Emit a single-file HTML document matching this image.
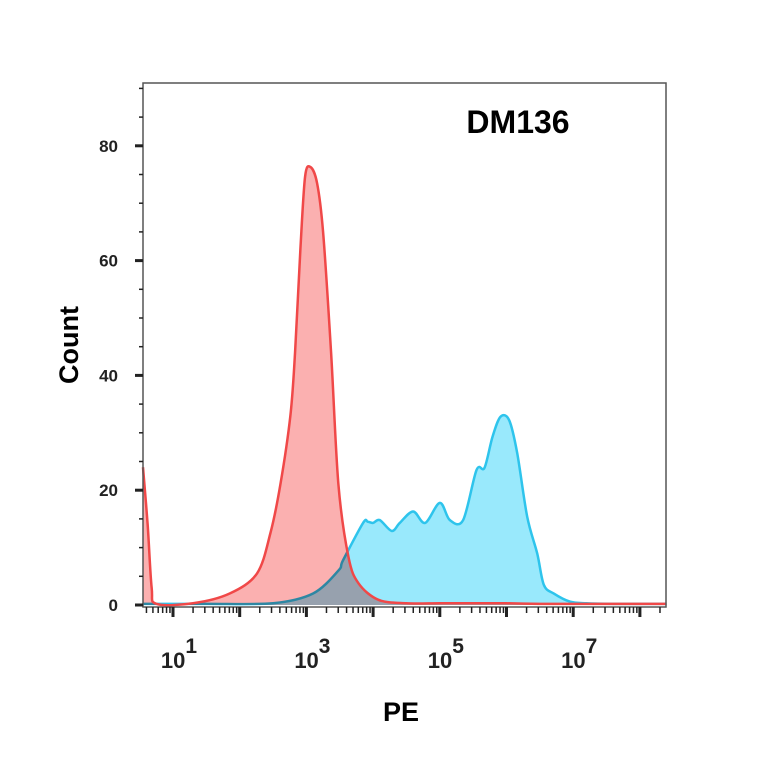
<!DOCTYPE html>
<html><head><meta charset="utf-8"><style>
body{margin:0;background:#fff;}
svg{display:block;font-family:"Liberation Sans",Arial,sans-serif;}
</style></head><body>
<svg id="chart" width="764" height="764" viewBox="0 0 764 764" xmlns="http://www.w3.org/2000/svg">
<g id="plot"></g>
<rect x="143" y="83" width="523" height="524" fill="none" stroke="#555" stroke-width="1.5"/>
<g id="axes"></g>
<text x="518" y="133" font-size="32" font-weight="bold" text-anchor="middle">DM136</text>
<text x="0" y="0" font-size="27" font-weight="bold" text-anchor="middle" transform="translate(78,345) rotate(-90)">Count</text>
<text x="401" y="721" font-size="27" font-weight="bold" text-anchor="middle">PE</text>
</svg>
<script>
// data (x in log10 decades, y in counts)
const redX = [0.55,0.62,0.68,0.75,1.3,1.85,2.26,2.46,2.61,2.76,2.83,2.91,2.98,3.06,3.16,3.25,3.37,3.48,3.63,3.78,4.08,4.5,5,5.5,6,6.5,7,8.4];
const redY = [24,14,3,0.2,0.3,2,5.5,12.5,21,33,44,62,74.6,76.3,73.5,65,44,21,8.4,3.8,0.9,0.3,0.3,0.3,0.3,0.2,0.2,0.2];
const blueX = [0.55,1.5,2.5,3.1,3.48,3.55,3.85,3.92,4.0,4.1,4.28,4.4,4.6,4.78,5.0,5.15,5.35,5.55,5.67,5.79,5.91,6.04,6.16,6.31,6.46,6.56,6.71,6.95,7.2,7.6,8.4];
const blueY = [0.2,0.2,0.3,2,6,7.8,14.3,14.5,14.3,14.8,12.9,14.3,16.3,14.3,17.8,14.8,14.8,23.5,23.9,29.3,32.8,32.2,26.5,15.4,9,3.5,2,0.6,0.3,0.2,0.2];
const yTicks = [0,20,40,60,80];
const xTickDecades = [1,3,5,7];

const NS="http://www.w3.org/2000/svg";
const xs = d => 173 + (d-1)*66.7;
const ys = v => 605 - v*5.74;
function mk(tag, attrs, parent){const e=document.createElementNS(NS,tag);for(const k in attrs)e.setAttribute(k,attrs[k]);parent.appendChild(e);return e;}
function smoothPath(X,Y){
  const p=X.map((x,i)=>[xs(x),ys(Y[i])]);
  let d=`M${p[0][0]},${p[0][1]}`;
  for(let i=0;i<p.length-1;i++){
    const p0=p[Math.max(0,i-1)],p1=p[i],p2=p[i+1],p3=p[Math.min(p.length-1,i+2)];
    const t=0.16;
    d+=` C${p1[0]+(p2[0]-p0[0])*t},${p1[1]+(p2[1]-p0[1])*t} ${p2[0]-(p3[0]-p1[0])*t},${p2[1]-(p3[1]-p1[1])*t} ${p2[0]},${p2[1]}`;
  }
  return {d, first:p[0], last:p[p.length-1]};
}
const plot=document.getElementById('plot');
function series(X,Y,fill,stroke,name,blend){
  const s=smoothPath(X,Y);
  const area=mk('path',{d:s.d+` L${s.last[0]},605 L${s.first[0]},605 Z`,fill:fill,stroke:'none'},plot);
  
  
  if(blend) area.style.mixBlendMode='multiply';
  const line=mk('path',{d:s.d,fill:'none',stroke:stroke,'stroke-width':2.5,'stroke-linejoin':'round'},plot);
  
  
}
series(blueX,blueY,'#99e9fc','#2ec4ec','blue-histogram',false);
series(redX,redY,'#fbb0b0','#f04848','red-histogram',true);

const axes=document.getElementById('axes');
for(let v=0;v<=90;v+=5){
  const major=v%20===0;
  const t=mk('line',{x1:major?135:139,x2:143,y1:ys(v),y2:ys(v),stroke:'#222','stroke-width':major?3:1.5},axes);
  
  
}
yTicks.forEach(v=>{
  const t=mk('text',{x:118,y:ys(v)+6,'font-size':17,'font-weight':'bold','text-anchor':'end',fill:'#222'},axes);
  t.textContent=v;
  
  
});
for(let dec=0;dec<=8;dec++){
  for(let m=1;m<=9;m++){
    const d=dec+Math.log10(m);
    const x=xs(d);
    if(x<144||x>666)continue;
    const major=m===1;
    const t=mk('line',{x1:x,x2:x,y1:607,y2:major?617:613,stroke:'#222','stroke-width':major?3:1.5},axes);
    
    
  }
}
xTickDecades.forEach(dec=>{
  const g=mk('text',{x:xs(dec)+6,y:668,'font-size':22,'font-weight':'bold','text-anchor':'middle',fill:'#222'},axes);
  
  
  const a=mk('tspan',{},g);a.textContent='10';
  const b=mk('tspan',{dy:-15,'font-size':21},g);b.textContent=dec;
});
</script>
</body></html>
